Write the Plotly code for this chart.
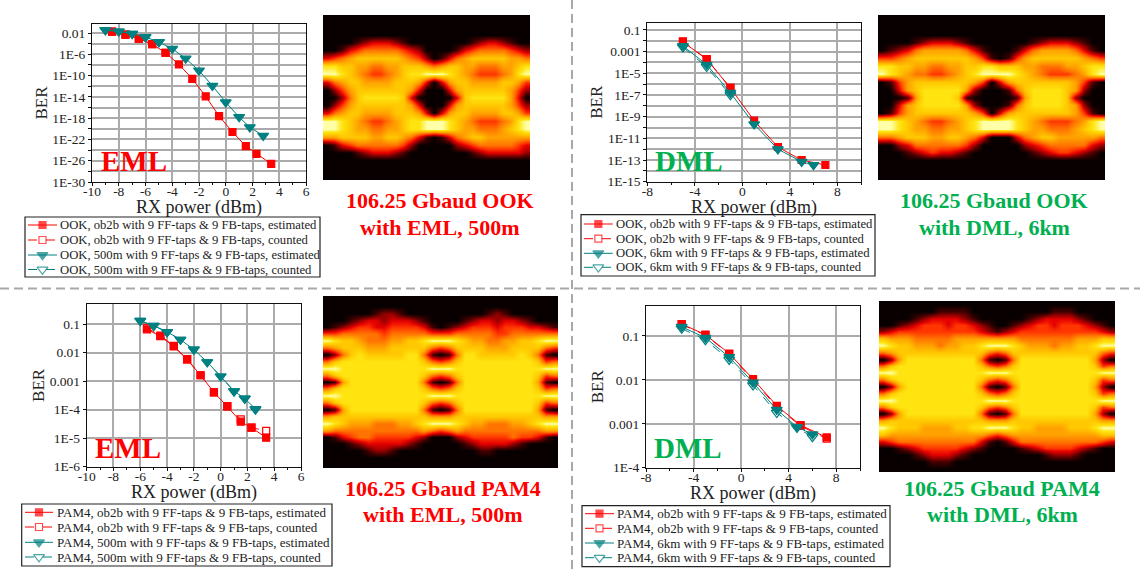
import plotly.graph_objects as go

W, H = 1140, 569
FONT = "Liberation Serif"
RED = "#ff0000"
TEAL = "#008080"
GREEN = "#00b050"
GRID = "#ababab"

# ---------- BER curves (x = RX power in dBm, y = log10 BER)
A_RED_X = [-8.5, -7.5, -6.5, -5.5, -4.5, -3.5, -2.5, -1.5, -0.5, 0.5, 1.5, 2.3, 3.4]
A_RED_Y = [-1.75, -2.3, -3.06, -4.1, -5.7, -7.9, -10.6, -13.9, -17.6, -20.6, -23.25, -24.7, -26.6]
A_RED_CX = [-8.5, -7.5, -6.5, -5.5, -4.5]
A_RED_CY = [-1.75, -2.3, -3.06, -4.1, -5.7]
A_TEAL_X = [-9, -8, -7, -6, -5, -4, -3, -2, -1, 0, 1, 1.8, 2.8]
A_TEAL_Y = [-1.44, -1.69, -2.13, -2.75, -3.7, -4.94, -6.8, -9.06, -11.9, -15, -17.8, -19.7, -21.3]
A_TEAL_CX = [-9, -8, -7, -6, -5]
A_TEAL_CY = [-1.44, -1.69, -2.13, -2.75, -3.7]

B_RED_X = [-5, -3, -1, 1, 3, 5, 7]
B_RED_Y = [-2.1, -3.7, -6.35, -9.37, -11.8, -13.0, -13.46]
B_RED_CX = [-5, -3, -1]
B_RED_CY = [-2.05, -3.68, -6.35]
B_TEAL_X = [-5, -3, -1, 1, 3, 5, 6]
B_TEAL_Y = [-2.48, -4.2, -6.8, -9.7, -12.0, -13.15, -13.46]
B_TEAL_CX = [-5, -3, -1]
B_TEAL_CY = [-2.6, -4.4, -7.0]

C_RED_X = [-5.5, -4.5, -3.5, -2.5, -1.5, -0.5, 0.5, 1.5, 2.3, 3.4]
C_RED_Y = [-1.18, -1.42, -1.78, -2.24, -2.79, -3.39, -3.89, -4.42, -4.63, -4.98]
C_RED_CX = [-5.5, -4.5, -3.5, -2.5, -1.5, -0.5, 0.5, 1.5, 2.3, 3.4]
C_RED_CY = [-1.13, -1.4, -1.76, -2.22, -2.79, -3.39, -3.87, -4.34, -4.63, -4.74]
C_TEAL_X = [-6, -5, -4, -3, -2, -1, 0, 1, 1.8, 2.6]
C_TEAL_Y = [-0.88, -1.05, -1.27, -1.54, -1.89, -2.33, -2.83, -3.35, -3.61, -3.97]
C_TEAL_CX = [-6, -5, -4, -3, -2, -1, 0, 1, 1.8, 2.6]
C_TEAL_CY = [-0.88, -1.05, -1.27, -1.54, -1.89, -2.33, -2.83, -3.35, -3.61, -3.99]

D_RED_X = [-5, -3, -1, 1, 3, 5, 7.2]
D_RED_Y = [-0.727, -0.97, -1.40, -1.98, -2.59, -3.03, -3.31]
D_RED_CX = [-5, -3, -1, 1, 3, 5, 7.2]
D_RED_CY = [-0.735, -0.98, -1.41, -2.0, -2.61, -3.05, -3.34]
D_TEAL_X = [-5, -3, -1, 1, 3, 4.7, 6]
D_TEAL_Y = [-0.79, -1.04, -1.48, -2.06, -2.68, -3.07, -3.24]
D_TEAL_CX = [-5, -3, -1, 1, 3, 4.7, 6]
D_TEAL_CY = [-0.83, -1.09, -1.54, -2.12, -2.75, -3.09, -3.30]

# ---------- axis ticks
A_XTICKS = [-10, -8, -6, -4, -2, 0, 2, 4, 6]
A_XMINOR = [-9, -7, -5, -3, -1, 1, 3, 5]
B_XTICKS = [-8, -4, 0, 4, 8]
B_XMINOR = [-6, -2, 2, 6, 10]
A_YTICKS = [-30, -28, -26, -24, -22, -20, -18, -16, -14, -12, -10, -8, -6, -4, -2]
A_YLABELS = ["1E-30", "", "1E-26", "", "1E-22", "", "1E-18", "", "1E-14", "", "1E-10", "", "1E-6", "", "0.01"]
B_YTICKS = [-15, -14, -13, -12, -11, -10, -9, -8, -7, -6, -5, -4, -3, -2, -1]
B_YLABELS = ["1E-15", "", "1E-13", "", "1E-11", "", "1E-9", "", "1E-7", "", "1E-5", "", "0.001", "", "0.1"]
C_YTICKS = [-6, -5, -4, -3, -2, -1]
C_YLABELS = ["1E-6", "1E-5", "1E-4", "0.001", "0.01", "0.1"]
D_YTICKS = [-4, -3, -2, -1]
D_YLABELS = ["1E-4", "0.001", "0.01", "0.1"]

EYE_A = [
    "000000000000000000000000000",
    "000000000000000000000000000",
    "000000000000000000000000000",
    "000012333210000000012332100",
    "001345555543200001345555432",
    "345677777765420135677777665",
    "887766556677765677665556678",
    "998765445678899987654445689",
    "356776666777630367766667764",
    "024677777776300036777777642",
    "002578888873000003788888630",
    "024677777776300036777777642",
    "356776666777630367766667764",
    "998765445678899987654445689",
    "998766556678899987665556789",
    "667777667765310135677666666",
    "013455555542000002345555543",
    "000012333210000000012333332",
    "000000000000000000000000000",
    "000000000000000000000000000",
    "000000000000000000000000000",
]
EYE_B = [
    "000000000000000000000000000",
    "000000000000000000000000000",
    "000000000000000000000000000",
    "000012333210000000123332100",
    "012356666653100013566665310",
    "445677777776410146777777654",
    "887766556677887776655566788",
    "987655445678999987654445689",
    "014677777776403677777776410",
    "003678888862000157888876200",
    "000168888710000016888872000",
    "003678888862000157888876200",
    "014677777776403677777776410",
    "998765445678999987654445689",
    "998766556678999987665556789",
    "556777667765300035677666665",
    "002355555542000002345555532",
    "000123433210000000123443210",
    "000000000000000000000000000",
    "000000000000000000000000000",
    "000000000000000000000000000",
]
EYE_C = [
    "00000000000000000000000000000",
    "00000000000000000000000000000",
    "00000012210000000000121000000",
    "00012332333210000123323321000",
    "01234433444431012344434443321",
    "44555554555554445555544555555",
    "98776555667789998766556677899",
    "56777666777775457777666777754",
    "02578777778851015887777787510",
    "57888888888875457888888888745",
    "99888888888889998888888888899",
    "57888888888875457888888888745",
    "01688888888851015888888888610",
    "57888888888875457888888888745",
    "99888888888889998888888888899",
    "57888888888875457888888888745",
    "01688888888851015888888888610",
    "67777777777776667777777777766",
    "98766655566789998766555667899",
    "65555555555565456555555555566",
    "01345544444320002344444544310",
    "00012333332100000123333210000",
    "00000122100000000001100000000",
    "00000000000000000000000000000",
    "00000000000000000000000000000",
]
EYE_D = [
    "00000000000000000000000000000",
    "00000001111000000000011100000",
    "00001233332100000012333321000",
    "00123444344321001234434443210",
    "23444444444432123444444444432",
    "76665555566666666555555566677",
    "98776665667789998766656677899",
    "56777777777775457777777777754",
    "02688888888851015888888888620",
    "57888888888875457888888888745",
    "99888888888889998888888888899",
    "57888888888875457888888888745",
    "02688888888851015888888888620",
    "57888888888875457888888888745",
    "99888888888889998888888888899",
    "57888888888875457888888888745",
    "02688888888851015888888888620",
    "67777777777776667777777777766",
    "98777666677889998776666777899",
    "76666666666665456666666666677",
    "34555555555531013555555555543",
    "00123444443210000123444432100",
    "00001233321000000000122210000",
    "00000011100000000000000000000",
    "00000000000000000000000000000",
]
HOT = [[0.0, "#080000"], [1/9, "#450000"], [2/9, "#960000"], [3/9, "#e40000"],
       [4/9, "#ff3600"], [5/9, "#ff7400"], [6/9, "#ffa200"], [7/9, "#ffc800"],
       [8/9, "#ffe410"], [1.0, "#ffffa8"]]

def fx(px):
    return px / W
def fy(py):
    return 1 - py / H

fig = go.Figure()
layout = {}
annotations = []
shapes = []

def ber(values):
    return [10 ** v for v in values]

STYLES = [(RED, "square", 7, "solid"), (RED, "square-open", 7, "dash"),
          (TEAL, "triangle-down", 9.5, "solid"), (TEAL, "triangle-down-open", 9.5, "dash")]

def panel(i, box, yrange, xt, xm, yt, yl, series, xtitle_y):
    xa, ya = f"x{i}", f"y{i}"
    l, r, t, b = box
    for (sx, sy), (c, sym, sz, dash) in zip(series, STYLES):
        fig.add_trace(go.Scatter(
            x=sx, y=ber(sy), mode="lines+markers", xaxis=xa, yaxis=ya, showlegend=False,
            line=dict(color=c, width=1, dash=dash),
            marker=dict(color=c, symbol=sym, size=sz, line=dict(color=c, width=1.2)),
            hoverinfo="skip"))
    suffix = "" if i == 1 else str(i)
    layout["xaxis" + suffix] = dict(
        domain=[fx(l), fx(r)], range=[xt[0] if xt[0] == -10 else -8, 6 if xt[0] == -10 else 10],
        anchor=ya, tickmode="array", tickvals=xt, ticktext=[str(v) for v in xt],
        showgrid=True, gridcolor=GRID, gridwidth=1.6, zeroline=False, automargin=False,
        showline=True, linecolor="#111", linewidth=1, mirror=True,
        ticks="outside", ticklen=3, tickcolor="#111", tickangle=0, ticklabelstandoff=-6,
        tickfont=dict(family=FONT, size=13.5, color="#222"),
        minor=dict(tickmode="array", tickvals=xm, ticks="outside", ticklen=2, tickcolor="#111", showgrid=False))
    layout["yaxis" + suffix] = dict(
        domain=[fy(b), fy(t)], type="log", range=yrange, anchor=xa, automargin=False,
        tickmode="array", tickvals=[10 ** v for v in yt], ticktext=yl,
        showgrid=True, gridcolor=GRID, gridwidth=1.6, zeroline=False,
        showline=True, linecolor="#111", linewidth=1, mirror=True,
        ticks="outside", ticklen=3, tickcolor="#111",
        tickfont=dict(family=FONT, size=13.5, color="#222"),
        title=dict(text="BER", font=dict(family=FONT, size=17, color="#222"), standoff=0))
    annotations.append(dict(text="RX power (dBm)", x=fx((l + r) / 2), y=fy(xtitle_y), xref="paper", yref="paper",
                            showarrow=False, xanchor="center", yanchor="middle",
                            font=dict(family=FONT, size=18, color="#222")))

panel(1, (92, 306, 24, 182), [-30, -0.3], A_XTICKS, A_XMINOR, A_YTICKS, A_YLABELS,
      [(A_RED_X, A_RED_Y), (A_RED_CX, A_RED_CY), (A_TEAL_X, A_TEAL_Y), (A_TEAL_CX, A_TEAL_CY)], 207.5)
panel(2, (647.3, 861, 22.7, 181.7), [-15, -0.33], B_XTICKS, B_XMINOR, B_YTICKS, B_YLABELS,
      [(B_RED_X, B_RED_Y), (B_RED_CX, B_RED_CY), (B_TEAL_X, B_TEAL_Y), (B_TEAL_CX, B_TEAL_CY)], 207.5)
panel(3, (86.7, 301, 304, 466.7), [-6, -0.29], A_XTICKS, A_XMINOR, C_YTICKS, C_YLABELS,
      [(C_RED_X, C_RED_Y), (C_RED_CX, C_RED_CY), (C_TEAL_X, C_TEAL_Y), (C_TEAL_CX, C_TEAL_CY)], 492)
panel(4, (646, 860, 305.7, 467.7), [-4, -0.31], B_XTICKS, B_XMINOR, D_YTICKS, D_YLABELS,
      [(D_RED_X, D_RED_Y), (D_RED_CX, D_RED_CY), (D_TEAL_X, D_TEAL_Y), (D_TEAL_CX, D_TEAL_CY)], 493)

def eye(i, rows, box):
    l, r, t, b = box
    z = [[int(ch) for ch in row] for row in rows]
    nr, nc = len(z), len(z[0])
    fig.add_trace(go.Heatmap(z=z, xaxis=f"x{i}", yaxis=f"y{i}", zmin=0, zmax=9, colorscale=HOT,
                             zsmooth="best", showscale=False, hoverinfo="skip"))
    layout[f"xaxis{i}"] = dict(domain=[fx(l), fx(r)], range=[-0.5, nc - 0.5], visible=False, anchor=f"y{i}")
    layout[f"yaxis{i}"] = dict(domain=[fy(b), fy(t)], range=[nr - 0.5, -0.5], visible=False, anchor=f"x{i}")

eye(5, EYE_A, (323, 530, 15, 180))
eye(6, EYE_B, (878, 1105, 15, 180))
eye(7, EYE_C, (323, 558, 296, 468))
eye(8, EYE_D, (879, 1115, 301, 472))

# ---------- legends: box, four keys and four labels placed in a pixel-sized overlay axis
layout["xaxis9"] = dict(domain=[0, 1], range=[0, W], visible=False, anchor="y9", fixedrange=True)
layout["yaxis9"] = dict(domain=[0, 1], range=[H, 0], visible=False, anchor="x9", fixedrange=True)

def legend(mod, fibre, box, rows, key_l, key_r, text_x, size):
    l, r, t, b = box
    shapes.append(dict(type="rect", xref="paper", yref="paper", x0=fx(l), x1=fx(r), y0=fy(b), y1=fy(t),
                       line=dict(color="#222", width=1.2), fillcolor="white", layer="below"))
    labels = [f"{mod}, ob2b with 9 FF-taps & 9 FB-taps, estimated",
              f"{mod}, ob2b with 9 FF-taps & 9 FB-taps, counted",
              f"{mod}, {fibre} with 9 FF-taps & 9 FB-taps, estimated",
              f"{mod}, {fibre} with 9 FF-taps & 9 FB-taps, counted"]
    for y, lab, (c, sym, sz, dash) in zip(rows, labels, STYLES):
        fig.add_trace(go.Scatter(
            x=[key_l, (key_l + key_r) / 2, key_r], y=[y, y, y], xaxis="x9", yaxis="y9",
            mode="lines+markers", showlegend=False, hoverinfo="skip",
            line=dict(color=c, width=1, dash=dash),
            marker=dict(color=c, symbol=sym, size=[0, sz, 0], line=dict(color=c, width=[0, 1.2, 0]))))
        annotations.append(dict(text=lab, x=fx(text_x), y=fy(y), xref="paper", yref="paper", showarrow=False,
                                xanchor="left", yanchor="middle",
                                font=dict(family=FONT, size=size, color="#222")))

legend("OOK", "500m", (25, 320, 217, 277), [225, 240, 255, 269.5], 28, 57, 58, 12.65)
legend("OOK", "6km", (581, 875, 214.7, 276), [224, 238.7, 253.3, 267.3], 584, 612.7, 614, 12.65)
legend("PAM4", "500m", (21.7, 332, 504, 566), [512.3, 527, 542.3, 557], 25, 53, 54.7, 13)
legend("PAM4", "6km", (582, 890, 505.7, 566.7), [513.7, 528.3, 543, 557.7], 585, 614, 615.3, 13.05)

def note(text, px, py, size, color):
    return dict(text=text, x=fx(px), y=fy(py), xref="paper", yref="paper", showarrow=False,
                xanchor="center", yanchor="middle",
                font=dict(family=FONT, size=size, color=color, weight=700))

annotations += [
    note("EML", 134, 161, 29, RED), note("DML", 689, 161, 29, GREEN),
    note("EML", 128, 448, 29, RED), note("DML", 688, 448, 29, GREEN),
    note("106.25 Gbaud OOK", 440, 200, 22, RED), note("with EML, 500m", 440, 227, 22, RED),
    note("106.25 Gbaud OOK", 994, 200, 22, GREEN), note("with DML, 6km", 994, 227, 22, GREEN),
    note("106.25 Gbaud PAM4", 442.5, 488, 22, RED), note("with EML, 500m", 442.5, 514, 22, RED),
    note("106.25 Gbaud PAM4", 1002, 488, 22, GREEN), note("with DML, 6km", 1002, 514, 22, GREEN),
]
shapes += [
    dict(type="line", xref="paper", yref="paper", x0=fx(572), x1=fx(572), y0=0, y1=1,
         line=dict(color="#a8a8a8", width=2, dash="9px,5px")),
    dict(type="line", xref="paper", yref="paper", x0=0, x1=1, y0=fy(288.5), y1=fy(288.5),
         line=dict(color="#a8a8a8", width=2, dash="9px,5px")),
]

fig.update_layout(width=W, height=H, margin=dict(l=0, r=0, t=0, b=0, autoexpand=False), paper_bgcolor="white",
                  plot_bgcolor="rgba(0,0,0,0)", annotations=annotations, shapes=shapes, hovermode=False,
                  font=dict(family=FONT), showlegend=False, **layout)
fig.write_html("out.html", config={"displayModeBar": False},
               post_script="document.body.style.margin='0';document.documentElement.style.overflow='hidden';")
